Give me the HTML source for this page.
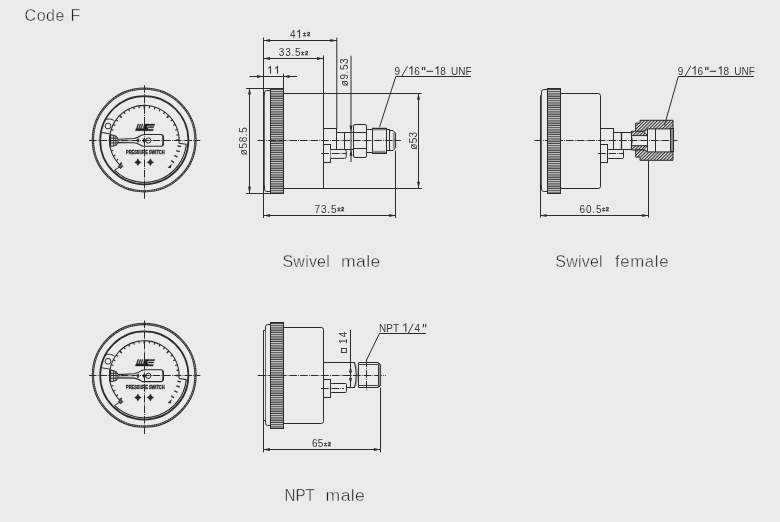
<!DOCTYPE html>
<html><head><meta charset="utf-8"><style>
html,body{margin:0;padding:0;background:#ebebeb;}
svg{display:block;will-change:transform;}
text{font-family:"Liberation Sans",sans-serif;fill:#383838;}
.lb{fill:#202020;stroke:#ebebeb;stroke-width:0.4px;}
</style></head><body>
<svg width="780" height="522" viewBox="0 0 780 522">
<defs>
<pattern id="kn" width="4" height="2.25" patternUnits="userSpaceOnUse">
<rect width="4" height="2.25" fill="#d4d4d4"/><rect y="1.1" width="4" height="1.15" fill="#3a3a3a"/>
</pattern>
<pattern id="hatch" width="2.3" height="3.2" patternUnits="userSpaceOnUse" patternTransform="rotate(45)">
<rect width="2.3" height="3.2" fill="#ebebeb"/><rect width="1.05" height="3.2" fill="#2b2b2b"/>
</pattern>
</defs>
<circle cx="144.20000000000002" cy="140.0" r="51.3" fill="none" stroke="#2b2b2b" stroke-width="2.3"/>
<circle cx="144.20000000000002" cy="140.0" r="51.3" fill="none" stroke="#cfcfcf" stroke-width="0.9" stroke-dasharray="0.9 1.0"/>
<circle cx="144.3" cy="140.2" r="44.1" fill="none" stroke="#2b2b2b" stroke-width="1.7"/>
<path d="M121.01 166.06 A34.8 34.8 0 1 1 178.97 143.23" fill="none" stroke="#2b2b2b" stroke-width="1.1"/>
<line x1="119.69" y1="164.81" x2="121.81" y2="162.69" stroke="#2b2b2b" stroke-width="1.6"/>
<line x1="116.15" y1="160.65" x2="118.01" y2="159.30" stroke="#2b2b2b" stroke-width="1.15"/>
<line x1="113.29" y1="156.00" x2="115.34" y2="154.95" stroke="#2b2b2b" stroke-width="1.15"/>
<line x1="111.20" y1="150.95" x2="113.39" y2="150.24" stroke="#2b2b2b" stroke-width="1.15"/>
<line x1="109.93" y1="145.64" x2="112.20" y2="145.28" stroke="#2b2b2b" stroke-width="1.15"/>
<line x1="109.50" y1="140.20" x2="112.50" y2="140.20" stroke="#2b2b2b" stroke-width="1.6"/>
<line x1="109.93" y1="134.76" x2="112.20" y2="135.12" stroke="#2b2b2b" stroke-width="1.15"/>
<line x1="111.20" y1="129.45" x2="113.39" y2="130.16" stroke="#2b2b2b" stroke-width="1.15"/>
<line x1="113.29" y1="124.40" x2="115.34" y2="125.45" stroke="#2b2b2b" stroke-width="1.15"/>
<line x1="116.15" y1="119.75" x2="118.01" y2="121.10" stroke="#2b2b2b" stroke-width="1.15"/>
<line x1="119.69" y1="115.59" x2="121.81" y2="117.71" stroke="#2b2b2b" stroke-width="1.6"/>
<line x1="123.85" y1="112.05" x2="125.20" y2="113.91" stroke="#2b2b2b" stroke-width="1.15"/>
<line x1="128.50" y1="109.19" x2="129.55" y2="111.24" stroke="#2b2b2b" stroke-width="1.15"/>
<line x1="133.55" y1="107.10" x2="134.26" y2="109.29" stroke="#2b2b2b" stroke-width="1.15"/>
<line x1="138.86" y1="105.83" x2="139.22" y2="108.10" stroke="#2b2b2b" stroke-width="1.15"/>
<line x1="144.30" y1="105.40" x2="144.30" y2="108.40" stroke="#2b2b2b" stroke-width="1.6"/>
<line x1="149.74" y1="105.83" x2="149.38" y2="108.10" stroke="#2b2b2b" stroke-width="1.15"/>
<line x1="155.05" y1="107.10" x2="154.34" y2="109.29" stroke="#2b2b2b" stroke-width="1.15"/>
<line x1="160.10" y1="109.19" x2="159.05" y2="111.24" stroke="#2b2b2b" stroke-width="1.15"/>
<line x1="164.75" y1="112.05" x2="163.40" y2="113.91" stroke="#2b2b2b" stroke-width="1.15"/>
<line x1="168.91" y1="115.59" x2="166.79" y2="117.71" stroke="#2b2b2b" stroke-width="1.6"/>
<line x1="172.45" y1="119.75" x2="170.59" y2="121.10" stroke="#2b2b2b" stroke-width="1.15"/>
<line x1="175.31" y1="124.40" x2="173.26" y2="125.45" stroke="#2b2b2b" stroke-width="1.15"/>
<line x1="177.40" y1="129.45" x2="175.21" y2="130.16" stroke="#2b2b2b" stroke-width="1.15"/>
<line x1="178.67" y1="134.76" x2="176.40" y2="135.12" stroke="#2b2b2b" stroke-width="1.15"/>
<line x1="179.10" y1="140.20" x2="176.10" y2="140.20" stroke="#2b2b2b" stroke-width="1.6"/>
<path d="M178.97 143.23 L186.40 144.30" stroke="#2b2b2b" stroke-width="1.1" fill="none"/>
<path d="M186.30 144.32 A42.2 42.2 0 0 1 114.56 170.14" fill="none" stroke="#2b2b2b" stroke-width="1.1"/>
<line x1="120.59" y1="166.35" x2="114.56" y2="170.14" stroke="#2b2b2b" stroke-width="1"/>
<rect x="118.99" y="164.75" width="3.2" height="3.2" fill="#555" stroke="#2b2b2b" stroke-width="0.9" transform="rotate(45 120.59 166.35)"/>
<line x1="177.41" y1="145.92" x2="180.96" y2="146.53" stroke="#2b2b2b" stroke-width="1.35"/>
<line x1="176.26" y1="150.58" x2="179.68" y2="151.70" stroke="#2b2b2b" stroke-width="1.35"/>
<line x1="174.24" y1="155.45" x2="177.45" y2="157.09" stroke="#2b2b2b" stroke-width="1.35"/>
<line x1="171.13" y1="160.42" x2="174.01" y2="162.59" stroke="#2b2b2b" stroke-width="1.35"/>
<path d="M167.58 167.68 L171.78 163.68 L170.78 168.28 Z" fill="#2b2b2b"/>
<path d="M104.40 120.40 C106.50 118.60 111.80 118.20 114.60 121.20" stroke="#2b2b2b" stroke-width="1" fill="none"/>
<path d="M101.40 132.40 L109.70 133.80" stroke="#2b2b2b" stroke-width="1" fill="none"/>
<circle cx="108.00" cy="126.00" r="2.9" fill="none" stroke="#2b2b2b" stroke-width="1"/>
<path d="M117.80 139.30 L134.00 138.50 Q138.00 137.80 141.40 135.30 Q143.00 134.50 145.20 134.50 L161.80 134.50 Q163.60 136.00 163.60 140.40 Q163.60 145.00 161.80 146.30 L142.50 146.30 Q138.50 143.50 134.50 142.80 L117.80 142.60" stroke="#2b2b2b" stroke-width="1.1" fill="none"/>
<path d="M117.80 140.90 L134.00 140.70" stroke="#888" stroke-width="0.8" fill="none"/>
<path d="M163.20 135.50 V145.50" stroke="#2b2b2b" stroke-width="1.6" fill="none"/>
<path d="M110.00 134.80 Q117.50 135.50 118.00 139.20 L118.00 142.80 Q117.50 146.00 110.00 146.40 Z" fill="#d8d8d8" stroke="#2b2b2b" stroke-width="1"/>
<path d="M110.30 134.80 V146.40" stroke="#2b2b2b" stroke-width="1.6" fill="none"/>
<path d="M113.60 134.90 V146.40 M115.90 135.60 V145.60 M110.50 138.10 H117.80 M110.50 142.90 H117.80" stroke="#2b2b2b" stroke-width="0.9" fill="none"/>
<ellipse cx="138.00" cy="140.50" rx="0.9" ry="1.9" fill="none" stroke="#2b2b2b" stroke-width="1"/>
<circle cx="148.30" cy="140.50" r="2.6" fill="none" stroke="#2b2b2b" stroke-width="1"/>
<path d="M144.30 137.60 L146.30 140.50 L144.30 143.40 L142.30 140.50 Z" fill="#2b2b2b"/>
<path d="M135.30 130.80 L135.90 128.70 L143.20 128.70 L142.60 130.80 Z M136.40 128.80 L137.70 124.10 L138.70 124.10 L137.40 128.80 Z M138.50 128.80 L139.80 124.10 L140.80 124.10 L139.50 128.80 Z M140.60 128.80 L141.90 124.10 L142.90 124.10 L141.60 128.80 Z M142.60 130.80 L144.30 124.10 L148.60 124.10 L147.90 126.30 L146.60 126.30 L148.00 128.20 L147.30 130.80 Z M147.30 124.10 L154.90 124.10 L154.40 125.50 L148.60 125.50 Z M148.60 126.60 L153.80 126.60 L153.50 127.80 L148.20 127.80 Z M147.60 129.30 L153.40 129.30 L153.00 130.80 L147.20 130.80 Z" fill="#1e1e1e" stroke="#1e1e1e" stroke-width="0.3"/>
<text x="126.00" y="153.70" font-size="5.6" font-weight="bold" textLength="38.6" lengthAdjust="spacingAndGlyphs" style="fill:#1e1e1e;stroke:#1e1e1e;stroke-width:0.35">PRESSURE SWITCH</text>
<path d="M137.90 158.30 Q138.80 161.30 141.60 162.20 Q138.80 163.10 137.90 166.10 Q137.00 163.10 134.20 162.20 Q137.00 161.30 137.90 158.30 Z" fill="#2b2b2b"/>
<path d="M150.40 158.30 Q151.30 161.30 154.10 162.20 Q151.30 163.10 150.40 166.10 Q149.50 163.10 146.70 162.20 Q149.50 161.30 150.40 158.30 Z" fill="#2b2b2b"/>
<line x1="144.5" y1="85.19999999999999" x2="144.5" y2="198.7" stroke="#2b2b2b" stroke-width="1" stroke-dasharray="7.6 1.2 0.8 1.0"/>
<line x1="89.00000000000001" y1="140.5" x2="200.3" y2="140.5" stroke="#2b2b2b" stroke-width="1" stroke-dasharray="7.6 1.2 0.8 1.0"/>
<circle cx="144.20000000000002" cy="375.3" r="51.3" fill="none" stroke="#2b2b2b" stroke-width="2.3"/>
<circle cx="144.20000000000002" cy="375.3" r="51.3" fill="none" stroke="#cfcfcf" stroke-width="0.9" stroke-dasharray="0.9 1.0"/>
<circle cx="144.3" cy="375.5" r="44.1" fill="none" stroke="#2b2b2b" stroke-width="1.7"/>
<path d="M121.01 401.36 A34.8 34.8 0 1 1 178.97 378.53" fill="none" stroke="#2b2b2b" stroke-width="1.1"/>
<line x1="119.69" y1="400.11" x2="121.81" y2="397.99" stroke="#2b2b2b" stroke-width="1.6"/>
<line x1="116.15" y1="395.95" x2="118.01" y2="394.60" stroke="#2b2b2b" stroke-width="1.15"/>
<line x1="113.29" y1="391.30" x2="115.34" y2="390.25" stroke="#2b2b2b" stroke-width="1.15"/>
<line x1="111.20" y1="386.25" x2="113.39" y2="385.54" stroke="#2b2b2b" stroke-width="1.15"/>
<line x1="109.93" y1="380.94" x2="112.20" y2="380.58" stroke="#2b2b2b" stroke-width="1.15"/>
<line x1="109.50" y1="375.50" x2="112.50" y2="375.50" stroke="#2b2b2b" stroke-width="1.6"/>
<line x1="109.93" y1="370.06" x2="112.20" y2="370.42" stroke="#2b2b2b" stroke-width="1.15"/>
<line x1="111.20" y1="364.75" x2="113.39" y2="365.46" stroke="#2b2b2b" stroke-width="1.15"/>
<line x1="113.29" y1="359.70" x2="115.34" y2="360.75" stroke="#2b2b2b" stroke-width="1.15"/>
<line x1="116.15" y1="355.05" x2="118.01" y2="356.40" stroke="#2b2b2b" stroke-width="1.15"/>
<line x1="119.69" y1="350.89" x2="121.81" y2="353.01" stroke="#2b2b2b" stroke-width="1.6"/>
<line x1="123.85" y1="347.35" x2="125.20" y2="349.21" stroke="#2b2b2b" stroke-width="1.15"/>
<line x1="128.50" y1="344.49" x2="129.55" y2="346.54" stroke="#2b2b2b" stroke-width="1.15"/>
<line x1="133.55" y1="342.40" x2="134.26" y2="344.59" stroke="#2b2b2b" stroke-width="1.15"/>
<line x1="138.86" y1="341.13" x2="139.22" y2="343.40" stroke="#2b2b2b" stroke-width="1.15"/>
<line x1="144.30" y1="340.70" x2="144.30" y2="343.70" stroke="#2b2b2b" stroke-width="1.6"/>
<line x1="149.74" y1="341.13" x2="149.38" y2="343.40" stroke="#2b2b2b" stroke-width="1.15"/>
<line x1="155.05" y1="342.40" x2="154.34" y2="344.59" stroke="#2b2b2b" stroke-width="1.15"/>
<line x1="160.10" y1="344.49" x2="159.05" y2="346.54" stroke="#2b2b2b" stroke-width="1.15"/>
<line x1="164.75" y1="347.35" x2="163.40" y2="349.21" stroke="#2b2b2b" stroke-width="1.15"/>
<line x1="168.91" y1="350.89" x2="166.79" y2="353.01" stroke="#2b2b2b" stroke-width="1.6"/>
<line x1="172.45" y1="355.05" x2="170.59" y2="356.40" stroke="#2b2b2b" stroke-width="1.15"/>
<line x1="175.31" y1="359.70" x2="173.26" y2="360.75" stroke="#2b2b2b" stroke-width="1.15"/>
<line x1="177.40" y1="364.75" x2="175.21" y2="365.46" stroke="#2b2b2b" stroke-width="1.15"/>
<line x1="178.67" y1="370.06" x2="176.40" y2="370.42" stroke="#2b2b2b" stroke-width="1.15"/>
<line x1="179.10" y1="375.50" x2="176.10" y2="375.50" stroke="#2b2b2b" stroke-width="1.6"/>
<path d="M178.97 378.53 L186.40 379.60" stroke="#2b2b2b" stroke-width="1.1" fill="none"/>
<path d="M186.30 379.62 A42.2 42.2 0 0 1 114.56 405.44" fill="none" stroke="#2b2b2b" stroke-width="1.1"/>
<line x1="120.59" y1="401.65" x2="114.56" y2="405.44" stroke="#2b2b2b" stroke-width="1"/>
<rect x="118.99" y="400.05" width="3.2" height="3.2" fill="#555" stroke="#2b2b2b" stroke-width="0.9" transform="rotate(45 120.59 401.65)"/>
<line x1="177.41" y1="381.22" x2="180.96" y2="381.83" stroke="#2b2b2b" stroke-width="1.35"/>
<line x1="176.26" y1="385.88" x2="179.68" y2="387.00" stroke="#2b2b2b" stroke-width="1.35"/>
<line x1="174.24" y1="390.75" x2="177.45" y2="392.39" stroke="#2b2b2b" stroke-width="1.35"/>
<line x1="171.13" y1="395.72" x2="174.01" y2="397.89" stroke="#2b2b2b" stroke-width="1.35"/>
<path d="M167.58 402.98 L171.78 398.98 L170.78 403.58 Z" fill="#2b2b2b"/>
<path d="M104.40 355.70 C106.50 353.90 111.80 353.50 114.60 356.50" stroke="#2b2b2b" stroke-width="1" fill="none"/>
<path d="M101.40 367.70 L109.70 369.10" stroke="#2b2b2b" stroke-width="1" fill="none"/>
<circle cx="108.00" cy="361.30" r="2.9" fill="none" stroke="#2b2b2b" stroke-width="1"/>
<path d="M117.80 374.60 L134.00 373.80 Q138.00 373.10 141.40 370.60 Q143.00 369.80 145.20 369.80 L161.80 369.80 Q163.60 371.30 163.60 375.70 Q163.60 380.30 161.80 381.60 L142.50 381.60 Q138.50 378.80 134.50 378.10 L117.80 377.90" stroke="#2b2b2b" stroke-width="1.1" fill="none"/>
<path d="M117.80 376.20 L134.00 376.00" stroke="#888" stroke-width="0.8" fill="none"/>
<path d="M163.20 370.80 V380.80" stroke="#2b2b2b" stroke-width="1.6" fill="none"/>
<path d="M110.00 370.10 Q117.50 370.80 118.00 374.50 L118.00 378.10 Q117.50 381.30 110.00 381.70 Z" fill="#d8d8d8" stroke="#2b2b2b" stroke-width="1"/>
<path d="M110.30 370.10 V381.70" stroke="#2b2b2b" stroke-width="1.6" fill="none"/>
<path d="M113.60 370.20 V381.70 M115.90 370.90 V380.90 M110.50 373.40 H117.80 M110.50 378.20 H117.80" stroke="#2b2b2b" stroke-width="0.9" fill="none"/>
<ellipse cx="138.00" cy="375.80" rx="0.9" ry="1.9" fill="none" stroke="#2b2b2b" stroke-width="1"/>
<circle cx="148.30" cy="375.80" r="2.6" fill="none" stroke="#2b2b2b" stroke-width="1"/>
<path d="M144.30 372.90 L146.30 375.80 L144.30 378.70 L142.30 375.80 Z" fill="#2b2b2b"/>
<path d="M135.30 366.10 L135.90 364.00 L143.20 364.00 L142.60 366.10 Z M136.40 364.10 L137.70 359.40 L138.70 359.40 L137.40 364.10 Z M138.50 364.10 L139.80 359.40 L140.80 359.40 L139.50 364.10 Z M140.60 364.10 L141.90 359.40 L142.90 359.40 L141.60 364.10 Z M142.60 366.10 L144.30 359.40 L148.60 359.40 L147.90 361.60 L146.60 361.60 L148.00 363.50 L147.30 366.10 Z M147.30 359.40 L154.90 359.40 L154.40 360.80 L148.60 360.80 Z M148.60 361.90 L153.80 361.90 L153.50 363.10 L148.20 363.10 Z M147.60 364.60 L153.40 364.60 L153.00 366.10 L147.20 366.10 Z" fill="#1e1e1e" stroke="#1e1e1e" stroke-width="0.3"/>
<text x="126.00" y="389.00" font-size="5.6" font-weight="bold" textLength="38.6" lengthAdjust="spacingAndGlyphs" style="fill:#1e1e1e;stroke:#1e1e1e;stroke-width:0.35">PRESSURE SWITCH</text>
<path d="M137.90 393.60 Q138.80 396.60 141.60 397.50 Q138.80 398.40 137.90 401.40 Q137.00 398.40 134.20 397.50 Q137.00 396.60 137.90 393.60 Z" fill="#2b2b2b"/>
<path d="M150.40 393.60 Q151.30 396.60 154.10 397.50 Q151.30 398.40 150.40 401.40 Q149.50 398.40 146.70 397.50 Q149.50 396.60 150.40 393.60 Z" fill="#2b2b2b"/>
<line x1="144.5" y1="320.5" x2="144.5" y2="434.0" stroke="#2b2b2b" stroke-width="1" stroke-dasharray="7.6 1.2 0.8 1.0"/>
<line x1="89.00000000000001" y1="375.5" x2="200.3" y2="375.5" stroke="#2b2b2b" stroke-width="1" stroke-dasharray="7.6 1.2 0.8 1.0"/>
<line x1="263.5" y1="37.5" x2="263.5" y2="218" stroke="#2b2b2b" stroke-width="1" />
<path d="M336.8 37.5 V128.6" stroke="#2b2b2b" stroke-width="1" fill="none" />
<line x1="263.5" y1="40.5" x2="336.8" y2="40.5" stroke="#2b2b2b" stroke-width="1" />
<path d="M263.5 40.5 L270.0 39.0 L270.0 42.0 Z" fill="#2b2b2b" stroke="none"/>
<path d="M336.8 40.5 L330.3 39.0 L330.3 42.0 Z" fill="#2b2b2b" stroke="none"/>
<text x="290.0" y="37.7" font-size="10" letter-spacing="0" >4</text>
<path d="M297.1 32.1 L299.5 30.3 V37.7" stroke="#383838" stroke-width="1.1" fill="none" />
<text x="303.1" y="36.4" font-size="5.8" letter-spacing="0.6" font-weight="bold" style="stroke:#383838;stroke-width:0.3px">±2</text>
<line x1="323.5" y1="55.5" x2="323.5" y2="188.5" stroke="#2b2b2b" stroke-width="1" />
<line x1="263.5" y1="58.5" x2="323.5" y2="58.5" stroke="#2b2b2b" stroke-width="1" />
<path d="M263.5 58.5 L270.0 57.0 L270.0 60.0 Z" fill="#2b2b2b" stroke="none"/>
<path d="M323.5 58.5 L317.0 57.0 L317.0 60.0 Z" fill="#2b2b2b" stroke="none"/>
<text x="278.8" y="55.9" font-size="10" letter-spacing="0.8" >33.5</text>
<text x="301.1" y="54.5" font-size="5.8" letter-spacing="0.6" font-weight="bold" style="stroke:#383838;stroke-width:0.3px">±2</text>
<line x1="283.5" y1="73.7" x2="283.5" y2="88" stroke="#2b2b2b" stroke-width="1" />
<line x1="249.5" y1="76.5" x2="297" y2="76.5" stroke="#2b2b2b" stroke-width="1" />
<path d="M263.5 76.5 L257.0 75.0 L257.0 78.0 Z" fill="#2b2b2b" stroke="none"/>
<path d="M283 76.5 L289.5 75.0 L289.5 78.0 Z" fill="#2b2b2b" stroke="none"/>
<path d="M268.2 68.4 L270.5 66.6 V73.8 M275.2 68.4 L277.5 66.6 V73.8" stroke="#383838" stroke-width="1.1" fill="none" />
<line x1="246" y1="88.5" x2="270.5" y2="88.5" stroke="#2b2b2b" stroke-width="1" />
<line x1="246" y1="193.5" x2="283.7" y2="193.5" stroke="#2b2b2b" stroke-width="1" />
<line x1="249.5" y1="88" x2="249.5" y2="193.3" stroke="#2b2b2b" stroke-width="1" />
<path d="M249.5 88 L248.0 94.5 L251.0 94.5 Z" fill="#2b2b2b" stroke="none"/>
<path d="M249.5 193.3 L248.0 186.8 L251.0 186.8 Z" fill="#2b2b2b" stroke="none"/>
<text transform="translate(247 155.2) rotate(-90)" font-size="10" letter-spacing="0.6">ø58.5</text>
<path d="M263.5 95.5 H264.5 V92.8 Q264.5 90.5 266.8 90.5 H270.5" stroke="#2b2b2b" stroke-width="1" fill="none" />
<line x1="264.5" y1="95.5" x2="264.5" y2="185.5" stroke="#555" stroke-width="0.9" />
<path d="M263.5 185.5 H264.5 V189.2 Q264.5 191.5 266.8 191.5 H270.5" stroke="#2b2b2b" stroke-width="1" fill="none" />
<rect x="270.5" y="88.5" width="13.0" height="105.0" rx="0" stroke="#2b2b2b" stroke-width="1" fill="url(#kn)" />
<path d="M283.7 93.5 H421.6" stroke="#2b2b2b" stroke-width="1" fill="none" />
<path d="M283.7 188.5 H323.5" stroke="#2b2b2b" stroke-width="1" fill="none" />
<rect x="323.5" y="128.5" width="13.0" height="21.0" rx="0" stroke="#2b2b2b" stroke-width="1" fill="none" />
<rect x="336.5" y="132.5" width="17.0" height="17.0" rx="0" stroke="#2b2b2b" stroke-width="1" fill="none" />
<line x1="344.5" y1="132" x2="344.5" y2="149.3" stroke="#2b2b2b" stroke-width="1" />
<rect x="353.5" y="124.5" width="13.0" height="33.0" rx="1.5" stroke="#2b2b2b" stroke-width="1" fill="none" />
<line x1="353.5" y1="132.5" x2="366.1" y2="132.5" stroke="#2b2b2b" stroke-width="1" />
<line x1="353.5" y1="148.5" x2="366.1" y2="148.5" stroke="#2b2b2b" stroke-width="1" />
<rect x="366.5" y="129.5" width="6.0" height="23.0" rx="0" stroke="#2b2b2b" stroke-width="1" fill="none" />
<rect x="372.5" y="128.5" width="14.0" height="25.0" rx="0" stroke="#2b2b2b" stroke-width="1" fill="none" />
<path d="M372.1 128.6 H386.1 M372.1 153.2 H386.1" stroke="#2b2b2b" stroke-width="1.8" fill="none" />
<rect x="386.5" y="129.5" width="3.0" height="21.0" rx="0" stroke="#2b2b2b" stroke-width="1" fill="none" />
<rect x="392.8" y="132.5" width="2.6" height="16" fill="#9a9a9a"/>
<path d="M389.7 130.5 H393.0 L395.6 133.2 V147.8 L393.0 150.5 H389.7" stroke="#2b2b2b" stroke-width="1" fill="none" />
<rect x="372.6" y="150.8" width="13" height="1.8" fill="#8c8c8c"/>
<rect x="372.6" y="129.2" width="13" height="1.2" fill="#8c8c8c"/>
<rect x="323.5" y="144.5" width="7.0" height="18.0" rx="0" stroke="#2b2b2b" stroke-width="1" fill="#ebebeb" />
<path d="M330.5 149.5 H344.5 Q346.3 149.5 346.3 151.5 V156.5 Q346.3 158.4 344.5 158.4 H330.5" stroke="#2b2b2b" stroke-width="1" fill="#ebebeb" />
<line x1="257.6" y1="140.5" x2="400.8" y2="140.5" stroke="#2b2b2b" stroke-width="1" stroke-dasharray="7.6 1.2 0.8 1.0"/>
<line x1="321.3" y1="153.5" x2="346.3" y2="153.5" stroke="#2b2b2b" stroke-width="1" stroke-dasharray="7.6 1.2 0.8 1.0"/>
<path d="M351.0 55.8 V162" stroke="#2b2b2b" stroke-width="1" fill="none" />
<path d="M351 132 L349.5 125.5 L352.5 125.5 Z M351 149.3 L349.5 155.8 L352.5 155.8 Z" fill="#2b2b2b"/>
<text transform="translate(348.2 86.3) rotate(-90)" font-size="10" letter-spacing="0.6">ø9.53</text>
<path d="M379.5 127.2 L395.8 76.5 H471" stroke="#2b2b2b" stroke-width="1" fill="none" />
<text x="394.5" y="74.7" font-size="10" letter-spacing="0" >9</text>
<path d="M401.70 76.40 L407.60 66.10" stroke="#383838" stroke-width="1.0" fill="none" />
<path d="M409.30 68.60 L411.90 66.80 V74.70" stroke="#383838" stroke-width="1.1" fill="none" />
<text x="414.2" y="74.7" font-size="10" letter-spacing="0" >6</text>
<path d="M422.60 66.90 L422.40 70.10 M424.80 66.90 L424.60 70.10" stroke="#383838" stroke-width="1.2" fill="none" />
<path d="M426.50 71.30 H433.00" stroke="#383838" stroke-width="1.1" fill="none" />
<path d="M435.40 68.60 L437.90 66.80 V74.70" stroke="#383838" stroke-width="1.1" fill="none" />
<text x="440.3" y="74.7" font-size="10" letter-spacing="0" >8</text>
<text x="451.1" y="74.7" font-size="10" letter-spacing="0" >UNF</text>
<line x1="418.5" y1="93.3" x2="418.5" y2="188.3" stroke="#2b2b2b" stroke-width="1" />
<path d="M418.5 93.3 L417.0 99.8 L420.0 99.8 Z" fill="#2b2b2b" stroke="none"/>
<path d="M418.5 188.3 L417.0 181.8 L420.0 181.8 Z" fill="#2b2b2b" stroke="none"/>
<line x1="323.5" y1="188.5" x2="422" y2="188.5" stroke="#2b2b2b" stroke-width="1" />
<text transform="translate(416.6 149.7) rotate(-90)" font-size="10" letter-spacing="0.3">ø53</text>
<line x1="395.5" y1="150.5" x2="395.5" y2="218" stroke="#2b2b2b" stroke-width="1" />
<line x1="263.5" y1="215.5" x2="395.6" y2="215.5" stroke="#2b2b2b" stroke-width="1" />
<path d="M263.5 215.5 L270.0 214.0 L270.0 217.0 Z" fill="#2b2b2b" stroke="none"/>
<path d="M395.6 215.5 L389.1 214.0 L389.1 217.0 Z" fill="#2b2b2b" stroke="none"/>
<text x="314.6" y="212.6" font-size="10" letter-spacing="0.8" >73.5</text>
<text x="337.2" y="210.9" font-size="5.8" letter-spacing="0.6" font-weight="bold" style="stroke:#383838;stroke-width:0.3px">±2</text>
<line x1="534.3" y1="140.5" x2="677.5" y2="140.5" stroke="#2b2b2b" stroke-width="1" stroke-dasharray="7.6 1.2 0.8 1.0"/>
<line x1="540.5" y1="95.6" x2="540.5" y2="217.7" stroke="#2b2b2b" stroke-width="1" />
<path d="M540.5 95.5 H541.5 V91.8 Q541.5 89.5 543.8 89.5 H547.4" stroke="#2b2b2b" stroke-width="1" fill="none" />
<line x1="541.5" y1="95.5" x2="541.5" y2="185.5" stroke="#555" stroke-width="0.9" />
<path d="M540.5 185.5 H541.5 V189.2 Q541.5 191.5 543.8 191.5 H547.4" stroke="#2b2b2b" stroke-width="1" fill="none" />
<rect x="547.5" y="88.5" width="13.0" height="105.0" rx="0" stroke="#2b2b2b" stroke-width="1" fill="url(#kn)" />
<path d="M560.2 93.5 H598.3 Q600.5 93.5 600.5 95.7 V186.3 Q600.5 188.5 598.3 188.5 H560.2" stroke="#2b2b2b" stroke-width="1" fill="none" />
<rect x="600.5" y="128.5" width="13.0" height="21.0" rx="0" stroke="#2b2b2b" stroke-width="1" fill="none" />
<rect x="613.5" y="132.5" width="18.0" height="17.0" rx="0" stroke="#2b2b2b" stroke-width="1" fill="none" />
<line x1="621.5" y1="132.2" x2="621.5" y2="149.4" stroke="#2b2b2b" stroke-width="1.3" />
<rect x="600.5" y="144.5" width="7.0" height="18.0" rx="0" stroke="#2b2b2b" stroke-width="1" fill="#ebebeb" />
<rect x="607.5" y="149.5" width="16.0" height="9.0" rx="1" stroke="#2b2b2b" stroke-width="1" fill="#ebebeb" />
<line x1="598" y1="153.5" x2="624" y2="153.5" stroke="#2b2b2b" stroke-width="1" stroke-dasharray="7.6 1.2 0.8 1.0"/>
<path d="M631.4 131.2 H643.5 L647.6 135.6 H631.4 Z" fill="url(#hatch)" stroke="#2b2b2b" stroke-width="1"/>
<path d="M631.4 150.0 H643.5 L647.6 145.7 H631.4 Z" fill="url(#hatch)" stroke="#2b2b2b" stroke-width="1"/>
<path d="M631.4 135.6 Q633 140.6 631.4 145.7" stroke="#2b2b2b" stroke-width="1" fill="none" />
<line x1="647.5" y1="128.9" x2="647.5" y2="151.9" stroke="#2b2b2b" stroke-width="1" />
<path d="M635.7 131.2 V123.1 H640 V120.3 H673 V128.9 H647.6 L645 131.2 Z" fill="url(#hatch)" stroke="#2b2b2b" stroke-width="1"/>
<path d="M635.7 150.0 V157.1 H640 V160.3 H673 V151.9 H647.6 L645 150.0 Z" fill="url(#hatch)" stroke="#2b2b2b" stroke-width="1"/>
<rect x="670.5" y="128.5" width="3.0" height="23.0" rx="0" stroke="#2b2b2b" stroke-width="1" fill="#8a8a8a" />
<line x1="655.5" y1="128.9" x2="655.5" y2="151.9" stroke="#2b2b2b" stroke-width="1" />
<path d="M664.5 125.2 L678.3 76.5 H754" stroke="#2b2b2b" stroke-width="1" fill="none" />
<text x="677.7" y="74.7" font-size="10" letter-spacing="0" >9</text>
<path d="M684.90 76.40 L690.80 66.10" stroke="#383838" stroke-width="1.0" fill="none" />
<path d="M692.50 68.60 L695.10 66.80 V74.70" stroke="#383838" stroke-width="1.1" fill="none" />
<text x="697.4" y="74.7" font-size="10" letter-spacing="0" >6</text>
<path d="M705.80 66.90 L705.60 70.10 M708.00 66.90 L707.80 70.10" stroke="#383838" stroke-width="1.2" fill="none" />
<path d="M709.70 71.30 H716.20" stroke="#383838" stroke-width="1.1" fill="none" />
<path d="M718.60 68.60 L721.10 66.80 V74.70" stroke="#383838" stroke-width="1.1" fill="none" />
<text x="723.5" y="74.7" font-size="10" letter-spacing="0" >8</text>
<text x="734.3" y="74.7" font-size="10" letter-spacing="0" >UNF</text>
<line x1="648.5" y1="160.6" x2="648.5" y2="217.7" stroke="#2b2b2b" stroke-width="1" />
<line x1="540" y1="215.5" x2="648.6" y2="215.5" stroke="#2b2b2b" stroke-width="1" />
<path d="M540 215.5 L546.5 214.0 L546.5 217.0 Z" fill="#2b2b2b" stroke="none"/>
<path d="M648.6 215.5 L642.1 214.0 L642.1 217.0 Z" fill="#2b2b2b" stroke="none"/>
<text x="579.6" y="212.6" font-size="10" letter-spacing="0.8" >60.5</text>
<text x="601.9" y="210.9" font-size="5.8" letter-spacing="0.6" font-weight="bold" style="stroke:#383838;stroke-width:0.3px">±2</text>
<line x1="257.7" y1="375.5" x2="385.8" y2="375.5" stroke="#2b2b2b" stroke-width="1" stroke-dasharray="7.6 1.2 0.8 1.0"/>
<line x1="263.5" y1="330.3" x2="263.5" y2="452.3" stroke="#2b2b2b" stroke-width="1" />
<path d="M263.5 330.5 H265.5 V326.8 Q265.5 324.5 267.8 324.5 H270.4" stroke="#2b2b2b" stroke-width="1" fill="none" />
<line x1="265.5" y1="330.5" x2="265.5" y2="420.5" stroke="#555" stroke-width="0.9" />
<path d="M263.5 420.5 H265.5 V423.2 Q265.5 425.5 267.8 425.5 H270.4" stroke="#2b2b2b" stroke-width="1" fill="none" />
<rect x="270.5" y="322.5" width="13.0" height="106.0" rx="0" stroke="#2b2b2b" stroke-width="1" fill="url(#kn)" />
<path d="M283.4 327.5 H321.3 Q323.5 327.5 323.5 329.7 V421.3 Q323.5 423.5 321.3 423.5 H283.4" stroke="#2b2b2b" stroke-width="1" fill="none" />
<path d="M323.5 362.5 H355 M323.5 387.5 H355" stroke="#2b2b2b" stroke-width="1" fill="none" />
<path d="M354.4 362.7 Q358.2 375.2 354.4 387.6" stroke="#2b2b2b" stroke-width="1.1" fill="none" />
<path d="M355.6 363.4 Q359.2 375.2 355.6 386.9" stroke="#777" stroke-width="0.7" fill="none" />
<line x1="358.5" y1="362.9" x2="358.5" y2="387.4" stroke="#2b2b2b" stroke-width="1" />
<path d="M358.5 362.5 H378 L380.5 365 V385 L378 387.5 H358.5" stroke="#2b2b2b" stroke-width="1.1" fill="none" />
<path d="M358.5 364.5 H378.5 M358.5 385.5 H378.5" stroke="#444" stroke-width="1" fill="none" />
<line x1="378.5" y1="364.5" x2="378.5" y2="385.5" stroke="#2b2b2b" stroke-width="1" />
<rect x="378.9" y="365" width="1.3" height="20" fill="#999"/>
<line x1="366.5" y1="359.6" x2="366.5" y2="391" stroke="#2b2b2b" stroke-width="1" stroke-dasharray="7.6 1.2 0.8 1.0"/>
<rect x="323.5" y="379.5" width="7.0" height="18.0" rx="0" stroke="#2b2b2b" stroke-width="1" fill="#ebebeb" />
<rect x="330.5" y="383.5" width="16.0" height="9.0" rx="1" stroke="#2b2b2b" stroke-width="1" fill="#ebebeb" />
<line x1="321" y1="388.5" x2="344" y2="388.5" stroke="#2b2b2b" stroke-width="1" stroke-dasharray="7.6 1.2 0.8 1.0"/>
<line x1="350.5" y1="366" x2="350.5" y2="384.5" stroke="#2b2b2b" stroke-width="1" />
<path d="M350.5 366 L349.0 372.5 L352.0 372.5 Z" fill="#2b2b2b" stroke="none"/>
<path d="M350.5 384.5 L349.0 378.0 L352.0 378.0 Z" fill="#2b2b2b" stroke="none"/>
<line x1="350.5" y1="330" x2="350.5" y2="387.4" stroke="#2b2b2b" stroke-width="1" />
<text transform="translate(346.9 343.9) rotate(-90)" font-size="10" letter-spacing="1.2">14</text>
<rect x="341.5" y="348.5" width="5.0" height="4.0" rx="0" stroke="#2b2b2b" stroke-width="0.9" fill="none" />
<path d="M366.3 360.6 L379.4 333.5 H426" stroke="#2b2b2b" stroke-width="1" fill="none" />
<text x="379.0" y="331.7" font-size="10" letter-spacing="0.1" >NPT</text>
<path d="M403.2 325.6 L405.8 323.9 V331.7" stroke="#383838" stroke-width="1.1" fill="none" />
<path d="M408.4 333.0 L413.2 323.9" stroke="#383838" stroke-width="1.0" fill="none" />
<text x="414.6" y="331.7" font-size="10" letter-spacing="0" >4</text>
<path d="M423.6 323.9 L423.3 327.2 M425.9 323.9 L425.6 327.2" stroke="#383838" stroke-width="1.1" fill="none" />
<line x1="380.5" y1="387.6" x2="380.5" y2="452.3" stroke="#2b2b2b" stroke-width="1" />
<line x1="263.4" y1="449.5" x2="380.3" y2="449.5" stroke="#2b2b2b" stroke-width="1" />
<path d="M263.4 449.5 L269.9 448.0 L269.9 451.0 Z" fill="#2b2b2b" stroke="none"/>
<path d="M380.3 449.5 L373.8 448.0 L373.8 451.0 Z" fill="#2b2b2b" stroke="none"/>
<text x="311.9" y="447.1" font-size="10" letter-spacing="0.3" >65</text>
<text x="324" y="445.9" font-size="5.8" letter-spacing="0.6" font-weight="bold" style="stroke:#383838;stroke-width:0.3px">±2</text>
<text x="24.6" y="20.8" font-size="16" letter-spacing="0.5" class="lb">Code</text>
<text x="70.5" y="20.8" font-size="16" letter-spacing="0" class="lb">F</text>
<text x="282.5" y="266.9" font-size="16" letter-spacing="0.2" class="lb">Swivel</text>
<text transform="translate(341 266.9) scale(1.1 1)" font-size="16" letter-spacing="0.35" class="lb">male</text>
<text x="555.3" y="266.5" font-size="16" letter-spacing="0.2" class="lb">Swivel</text>
<text transform="translate(615 266.5) scale(1.05 1)" font-size="16" letter-spacing="0.6" class="lb">female</text>
<text transform="translate(284.5 501.2) scale(0.95 1)" font-size="16" letter-spacing="0" class="lb">NPT</text>
<text transform="translate(325.6 501.2) scale(1.1 1)" font-size="16" letter-spacing="0.35" class="lb">male</text>
</svg></body></html>
